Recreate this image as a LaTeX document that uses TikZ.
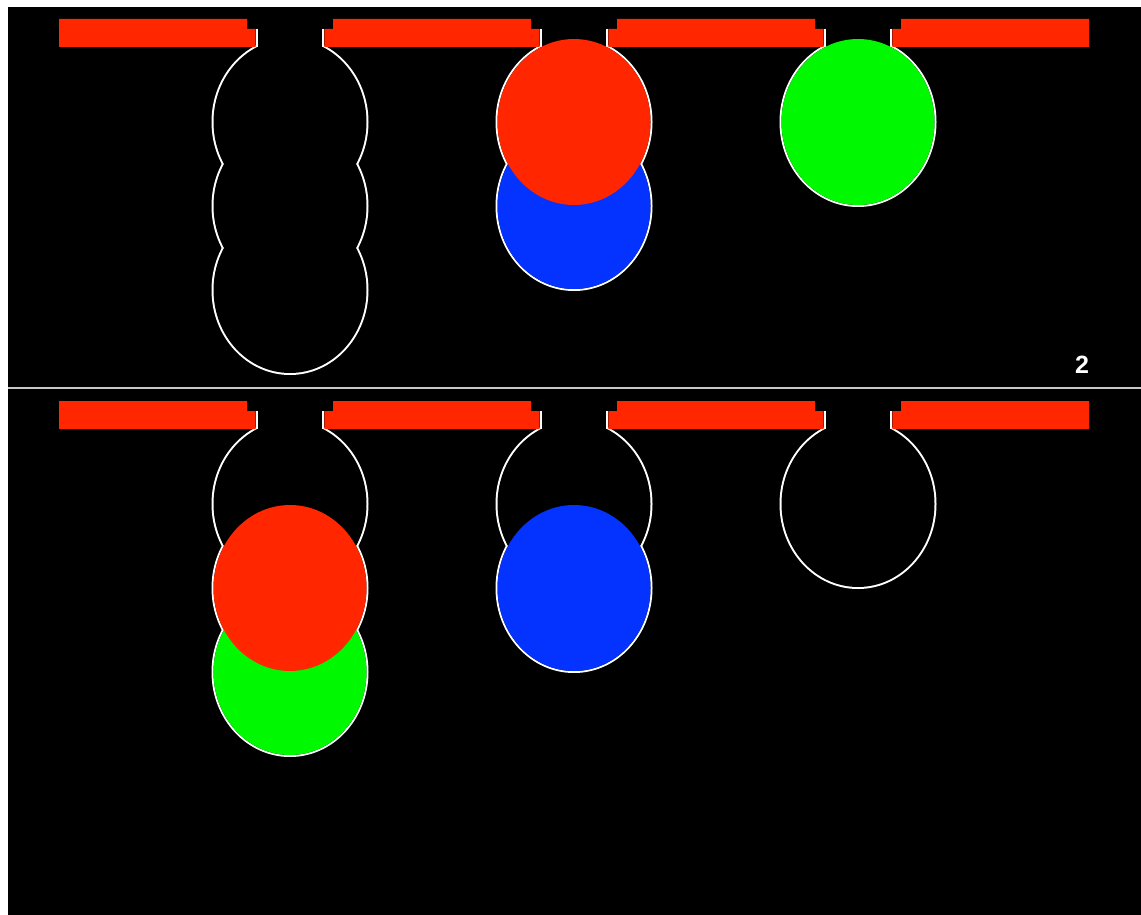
\documentclass[tikz,border=0pt]{standalone}
\usepackage{fontspec}
\setmainfont{Liberation Sans}

\definecolor{barred}{RGB}{255,38,0}
\definecolor{ballblue}{RGB}{4,51,255}
\definecolor{ballgreen}{RGB}{0,249,0}
\definecolor{divider}{RGB}{200,200,200}

\begin{document}
\begin{tikzpicture}[
  x=1pt,
  y=-1pt,
  line join=round,
  wall/.style={draw=white, line width=4pt},
  gapwall/.style={draw=white, line width=2pt},
  bar/.style={fill=barred},
  ball/.style={fill=#1}
]
  \def\rx{76.5}
  \def\ry{83}
  \def\lobe{84}
  \def\lobey{122}
  \def\gw{33.3}
  \def\gu{43}

  \useasboundingbox (0,0) rectangle (1141,915);
  \fill[white] (0,0) rectangle (1141,915);
  \fill[black] (8,7) rectangle (1141,915);

  % Разделитель панелей
  \draw[divider, line width=2.5pt]
    (8,388) -- (1141,388);

  \foreach \p in {0,382} {
    % Стенки камер
    \foreach \g/\n in {290/3,574/2,858/1}
      \foreach \k in {1,...,\n}
        \draw[wall]
          (\g,\lobey+\k*\lobe-\lobe+\p)
          ellipse[x radius=\rx, y radius=\ry];

    \foreach \g/\n in {290/3,574/2,858/1}
      \foreach \k in {1,...,\n}
        \fill[black]
          (\g,\lobey+\k*\lobe-\lobe+\p)
          ellipse[x radius=\rx, y radius=\ry];

    % Горловины
    \foreach \g in {290,574,858} {
      \fill[black]
        (\g-\gw+1,19+\p) rectangle (\g+\gw-1,48+\p);
      \draw[gapwall]
        (\g-\gw,29+\p) -- (\g-\gw,47+\p);
      \draw[gapwall]
        (\g+\gw,29+\p) -- (\g+\gw,47+\p);
    }
  }

  % Шары, верхняя панель
  \fill[ball=ballblue]
    (574,\lobey+\lobe) ellipse[x radius=\rx, y radius=\ry];
  \fill[ball=barred]
    (574,\lobey) ellipse[x radius=\rx, y radius=\ry];
  \fill[ball=ballgreen]
    (858,\lobey) ellipse[x radius=\rx, y radius=\ry];

  % Шары, нижняя панель
  \fill[ball=ballgreen]
    (290,\lobey+2*\lobe+382) ellipse[x radius=\rx, y radius=\ry];
  \fill[ball=barred]
    (290,\lobey+\lobe+382) ellipse[x radius=\rx, y radius=\ry];
  \fill[ball=ballblue]
    (574,\lobey+\lobe+382) ellipse[x radius=\rx, y radius=\ry];

  % Красные планки
  \foreach \p in {0,382} {
    \fill[bar]
      (59,19+\p) -- (290-\gu,19+\p) -- (290-\gu,29+\p)
      -- (290-\gw-1,29+\p) -- (290-\gw-1,47+\p) -- (59,47+\p) -- cycle;

    \foreach \a/\b in {290/574,574/858}
      \fill[bar]
        (\a+\gu,19+\p) -- (\b-\gu,19+\p) -- (\b-\gu,29+\p)
        -- (\b-\gw-1,29+\p) -- (\b-\gw-1,47+\p)
        -- (\a+\gw+1,47+\p) -- (\a+\gw+1,29+\p)
        -- (\a+\gu,29+\p) -- cycle;

    \fill[bar]
      (1089,19+\p) -- (858+\gu,19+\p) -- (858+\gu,29+\p)
      -- (858+\gw+1,29+\p) -- (858+\gw+1,47+\p) -- (1089,47+\p) -- cycle;
  }

  \node[text=white, font=\bfseries\fontsize{25}{25}\selectfont]
    (step) at (1082,365) {2};
\end{tikzpicture}
\end{document}
